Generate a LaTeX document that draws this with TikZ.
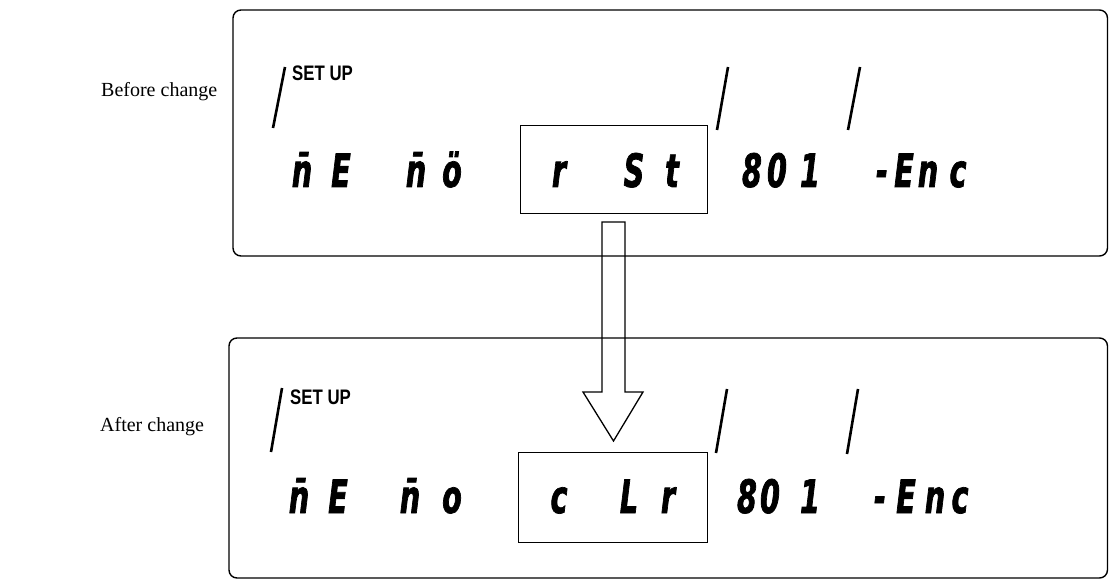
\documentclass[tikz,border=0pt]{standalone}
\usepackage{fontspec}
\setmainfont{Liberation Serif}
\newfontfamily\segfont[FakeStretch=0.62,FakeBold=1.5]{DejaVu Sans}
\newfontfamily\lcdfont[FakeStretch=0.8]{Liberation Sans}
\tikzset{
  panel/.style={draw, line width=1.4pt, rounded corners=8pt},
  selbox/.style={draw, line width=1.3pt},
  slash/.style={line width=2.6pt},
  seg/.style={font=\segfont\bfseries\itshape\fontsize{46}{46}\selectfont, inner sep=0pt, anchor=base},
  setup/.style={font=\lcdfont\bfseries\fontsize{21}{21}\selectfont, inner sep=0pt, anchor=base west},
  lbl/.style={font=\fontsize{20}{24}\selectfont, inner sep=0pt, anchor=base west},
  bigarrow/.style={draw, line width=1.3pt, line join=miter}
}
\begin{document}
\begin{tikzpicture}[x=1pt,y=-1pt]
\useasboundingbox (0,0) rectangle (1109,580);
% panels
\draw[panel] (233,10) rectangle (1107.5,256);
\draw[panel] (229,338) rectangle (1107.5,578);
% labels
\node[lbl] (before) at (101,97) {Before change};
\node[lbl] (after) at (100,431) {After change};
% top panel
\node[setup] (su1) at (292,81) {SET UP};
\coordinate (s1a) at (273,128); \coordinate (s1b) at (285,67);
\draw[slash] (s1a) -- (s1b);
\coordinate (s2a) at (717,130); \coordinate (s2b) at (728,67);
\draw[slash] (s2a) -- (s2b);
\coordinate (s3a) at (848,130); \coordinate (s3b) at (860,67);
\draw[slash] (s3a) -- (s3b);
\node[selbox, minimum width=187pt, minimum height=88pt, anchor=north west, inner sep=0pt] (sel1) at (520,125) {};
\foreach \x/\c [count=\i] in {302/\={n},341/E,416/\={n},452/\"{o},559/r,634/S,672/t,752/8,777/0,810/1,882/-,904/E,928/n,958/c}
  \node[seg] (t\i) at (\x,187) {\c};
% bottom panel
\node[setup] (su2) at (290,404) {SET UP};
\coordinate (b1a) at (271,452); \coordinate (b1b) at (282,388);
\draw[slash] (b1a) -- (b1b);
\coordinate (b2a) at (716,453); \coordinate (b2b) at (727,389);
\draw[slash] (b2a) -- (b2b);
\coordinate (b3a) at (847,454); \coordinate (b3b) at (858,389);
\draw[slash] (b3a) -- (b3b);
\node[selbox, minimum width=189pt, minimum height=90pt, anchor=north west, inner sep=0pt] (sel2) at (518,452) {};
\foreach \x/\c [count=\i] in {299/\={n},338/E,410/\={n},452/o,559/c,629/L,668/r,747/8,770/0,810/1,880/-,906/E,935/n,960/c}
  \node[seg] (u\i) at (\x,513) {\c};
% hollow arrow
\coordinate (ar) at (613.5,441);
\draw[bigarrow] (602,222) -- (602,392) -- (583,392) -- (ar) -- (643,392) -- (625,392) -- (625,222) -- cycle;
\end{tikzpicture}
\end{document}
